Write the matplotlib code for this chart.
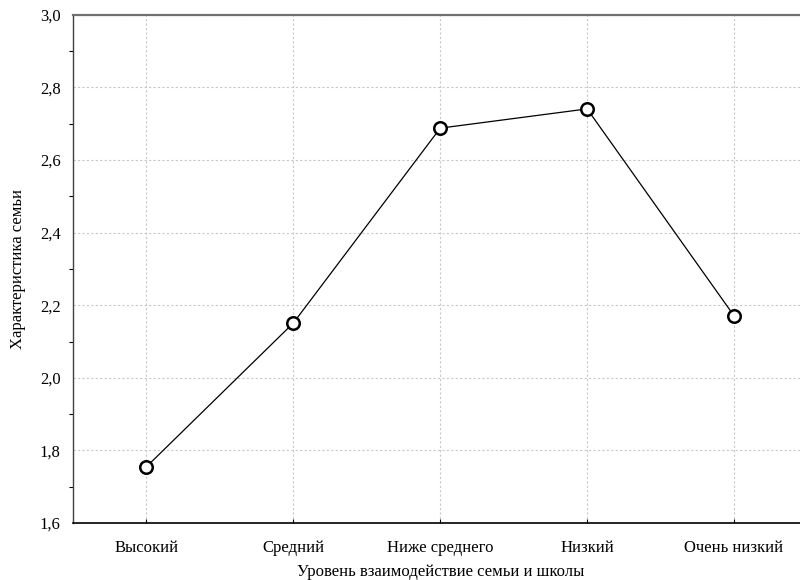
import matplotlib
matplotlib.use('Agg')
import matplotlib.pyplot as plt
from matplotlib.ticker import MultipleLocator, FuncFormatter

plt.rcParams['font.family'] = ['Liberation Serif', 'DejaVu Serif']

categories = ['Высокий', 'Средний', 'Ниже среднего', 'Низкий', 'Очень низкий']
values = [1.755, 2.151, 2.688, 2.741, 2.171]

x_label = 'Уровень взаимодействие семьи и школы'
y_label = 'Характеристика семьи'

fig = plt.figure(figsize=(8, 5.8), dpi=100)
ax = fig.add_axes([0.0913, 0.0983, 0.918, 0.876])

xs = list(range(len(categories)))
ax.plot(xs, values, color='black', lw=0.9, marker='o', markersize=9,
        markerfacecolor='white', markeredgecolor='black', markeredgewidth=1.8, zorder=3)

ax.set_xlim(-0.5, len(categories) - 0.5)
ax.set_ylim(1.6, 3.0)
ax.set_xticks(xs)
ax.set_xticklabels(categories, fontsize=12)
ax.yaxis.set_major_locator(MultipleLocator(0.2))
ax.yaxis.set_minor_locator(MultipleLocator(0.1))
ax.yaxis.set_major_formatter(FuncFormatter(lambda v, p: f'{v:.1f}'.replace('.', ',')))
ax.tick_params(axis='y', which='major', length=0, labelsize=12, pad=9)
ax.tick_params(axis='y', which='minor', length=3, direction='out', width=0.8)
ax.tick_params(axis='x', which='major', length=3, direction='in', pad=12)

ax.grid(True, which='major', color='#c8c8c8', linestyle=(0, (2, 2)), lw=0.8)

ax.spines['top'].set_color('#707070')
ax.spines['top'].set_linewidth(1.6)
ax.spines['left'].set_color('#404040')
ax.spines['left'].set_linewidth(1.0)
ax.spines['bottom'].set_color('black')
ax.spines['bottom'].set_linewidth(1.2)
ax.spines['right'].set_visible(False)

ax.set_xlabel(x_label, fontsize=12, labelpad=6)
ax.set_ylabel(y_label, fontsize=12, labelpad=10)

fig.savefig('out.png', dpi=100)
